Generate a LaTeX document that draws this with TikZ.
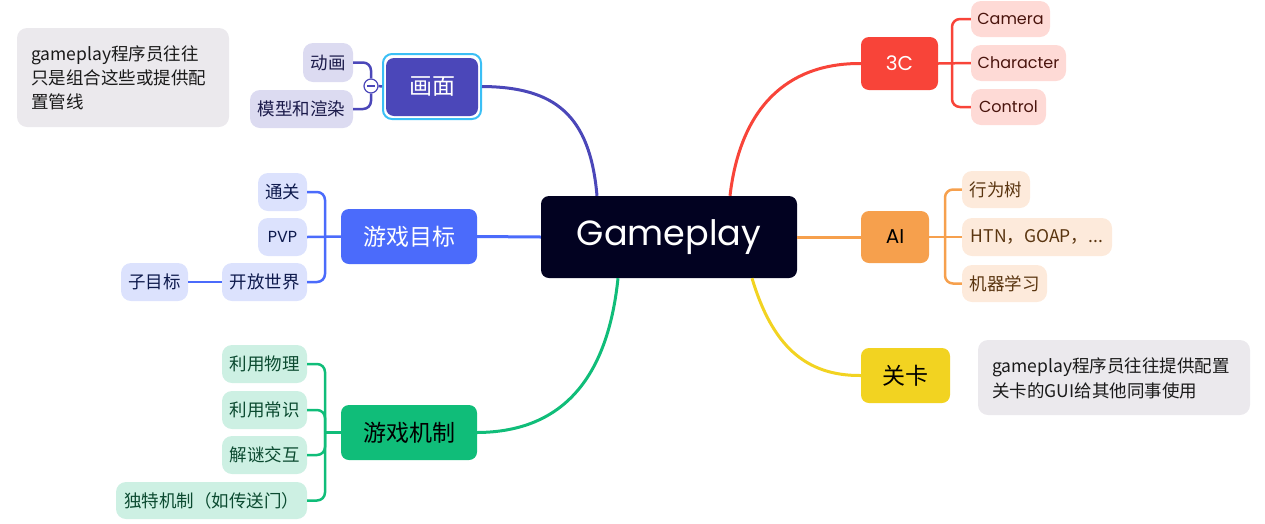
\documentclass[tikz,border=0pt]{standalone}
\usepackage{fontspec}
\setmainfont{Noto Sans CJK SC}
\newfontfamily\pop{Poppins}
\definecolor{navy}{HTML}{020221}
\definecolor{indigo}{HTML}{4B47B9}
\definecolor{indigosub}{HTML}{DCDBF1}
\definecolor{indigotxt}{HTML}{1B1A4A}
\definecolor{selcyan}{HTML}{3BBFF5}
\definecolor{redm}{HTML}{F84439}
\definecolor{redsub}{HTML}{FEDAD6}
\definecolor{redtxt}{HTML}{4A140D}
\definecolor{orangem}{HTML}{F6A04D}
\definecolor{orangesub}{HTML}{FDEADB}
\definecolor{orangetxt}{HTML}{5A3510}
\definecolor{yellowm}{HTML}{F2D321}
\definecolor{bluem}{HTML}{4B6BFB}
\definecolor{bluesub}{HTML}{DCE2FD}
\definecolor{bluetxt}{HTML}{0E1A4D}
\definecolor{greenm}{HTML}{10BD79}
\definecolor{greensub}{HTML}{CDF0E3}
\definecolor{greentxt}{HTML}{0B4A30}
\definecolor{notefill}{HTML}{EBE9ED}
\definecolor{notetxt}{HTML}{1A1A1A}
\begin{document}
\begin{tikzpicture}[x=1pt,y=-1pt,
  wh/.style 2 args={minimum width=#1pt, minimum height=#2pt},
  box/.style={rounded corners=8pt, inner sep=0pt, align=center},
  sub/.style={box, rounded corners=10pt, font=\fontsize{17.5}{20}\selectfont},
  big/.style={box, font=\fontsize{23}{26}\selectfont},
  note/.style={box, rounded corners=10pt, fill=notefill, text=notetxt, align=left},
  mainline/.style={line width=3pt},
  br/.style={line width=2.5pt, rounded corners=8pt}]
\useasboundingbox (0,0) rectangle (1265,523);

% central node
\node[box, wh={256}{82}, fill=navy, text=white, font=\pop\fontsize{35}{42}\selectfont] (gp) at (669,237) {Gameplay};

% 画面 branch
\node[box, wh={98}{65}, draw=selcyan, line width=2pt, rounded corners=9pt] (hmsel) at (432,86.5) {};
\node[big, wh={92}{58}, fill=indigo, text=white] (hm) at (432,87) {画面};
\node[sub, wh={50}{39}, fill=indigosub, text=indigotxt] (dh) at (328,62.5) {动画};
\node[sub, wh={103}{38}, fill=indigosub, text=indigotxt] (mx) at (301.5,109) {模型和渲染};
\node[circle, draw=indigo, fill=white, line width=1.2pt, minimum size=14pt, inner sep=0pt] (cc) at (371,86) {};
\draw[indigo, line width=1.2pt] ([xshift=-4pt]cc.center) -- ([xshift=4pt]cc.center);
\draw[br, indigo] (dh.east) -| (cc.north);
\draw[br, indigo] (mx.east) -| (cc.south);
\draw[br, indigo] (cc.east) -- (hmsel.west);
\draw[mainline, indigo] ([xshift=-72pt]gp.north) .. controls (590,115) and (555,87) .. (hmsel.east);

% note top-left
\node[note, wh={212}{99}] (n1) at (123,77.5) {};
\node[anchor=west, inner sep=0pt, align=left, text=notetxt, font=\fontsize{17.5}{24}\selectfont] (n1t) at (31,78) {gameplay程序员往往\\只是组合这些或提供配\\置管线};

% 3C branch
\node[big, wh={77}{53}, fill=redm, text=white, font=\pop\fontsize{20}{24}\selectfont] (c3) at (899.5,63.5) {3C};
\node[sub, wh={79}{36}, fill=redsub, text=redtxt, font=\pop\fontsize{16}{20}\selectfont] (cam) at (1010.5,19) {Camera};
\node[sub, wh={95}{36}, fill=redsub, text=redtxt, font=\pop\fontsize{16}{20}\selectfont] (chr) at (1018.5,63) {Character};
\node[sub, wh={75}{36}, fill=redsub, text=redtxt, font=\pop\fontsize{16}{20}\selectfont] (ctl) at (1008.5,107) {Control};
\coordinate (j3) at (952,63);
\draw[br, redm] (c3.east) -- (chr.west);
\draw[br, redm] (cam.west) -| (j3) |- (ctl.west);
\draw[mainline, redm] ([xshift=61pt]gp.north) .. controls (740,110) and (785,63) .. (c3.west);

% AI branch
\node[big, wh={68}{52}, fill=orangem, text=black, font=\pop\fontsize{20}{24}\selectfont] (ai) at (895,237) {AI};
\node[sub, wh={68}{37}, fill=orangesub, text=orangetxt] (xws) at (996,189.5) {行为树};
\node[sub, wh={150}{38}, fill=orangesub, text=orangetxt] (htn) at (1037,237) {HTN，GOAP，...};
\node[sub, wh={85}{37}, fill=orangesub, text=orangetxt] (jq) at (1004.5,283.5) {机器学习};
\coordinate (ja) at (945,237);
\draw[br, orangem] (ai.east) -- (htn.west);
\draw[br, orangem] (xws.west) -| (ja) |- (jq.west);
\draw[mainline, orangem] (gp.east) -- (ai.west);

% 关卡 branch
\node[big, wh={89}{55}, fill=yellowm, text=black] (gk) at (905.5,375.5) {关卡};
\draw[mainline, yellowm] ([xshift=83pt]gp.south) .. controls (772,345) and (805,376) .. (gk.west);
\node[note, wh={272}{75}] (n2) at (1114,377.5) {};
\node[anchor=west, inner sep=0pt, align=left, text=notetxt, font=\fontsize{17.5}{24.5}\selectfont] (n2t) at (992,378.5) {gameplay程序员往往提供配置\\关卡的GUI给其他同事使用};

% 游戏目标 branch
\node[big, wh={136}{55}, fill=bluem, text=white] (mb) at (409,236.5) {游戏目标};
\node[sub, wh={49}{38}, fill=bluesub, text=bluetxt] (tg) at (282.5,192) {通关};
\node[sub, wh={49}{38}, fill=bluesub, text=bluetxt, font=\pop\fontsize{16}{20}\selectfont] (pvp) at (282.5,237) {PVP};
\node[sub, wh={85}{38}, fill=bluesub, text=bluetxt] (kf) at (264.5,282) {开放世界};
\node[sub, wh={67}{38}, fill=bluesub, text=bluetxt] (zmb) at (154.5,282) {子目标};
\coordinate (jb) at (325,237);
\draw[br, bluem] (pvp.east) -- (mb.west);
\draw[br, bluem] (tg.east) -| (jb) |- (kf.east);
\draw[br, bluem] (zmb.east) -- (kf.west);
\draw[mainline, bluem] (mb.east) -- (gp.west);

% 游戏机制 branch
\node[big, wh={136}{55}, fill=greenm, text=black] (jz) at (409,432.5) {游戏机制};
\node[sub, wh={85}{38}, fill=greensub, text=greentxt] (wl) at (264.5,364) {利用物理};
\node[sub, wh={85}{38}, fill=greensub, text=greentxt] (cs) at (264.5,410) {利用常识};
\node[sub, wh={85}{38}, fill=greensub, text=greentxt] (jm) at (264.5,455) {解谜交互};
\node[sub, wh={191}{37}, fill=greensub, text=greentxt] (dt) at (211.5,500.5) {独特机制（如传送门）};
\coordinate (jg) at (325,432.5);
\draw[br, greenm] (wl.east) -| (jg) |- (dt.east);
\draw[br, greenm] (cs.east) -| (jg);
\draw[br, greenm] (jm.east) -| (jg);
\draw[br, greenm] (jg) -- (jz.west);
\draw[mainline, greenm] ([xshift=-51pt]gp.south) .. controls (608,375) and (565,432) .. (jz.east);
\end{tikzpicture}
\end{document}
